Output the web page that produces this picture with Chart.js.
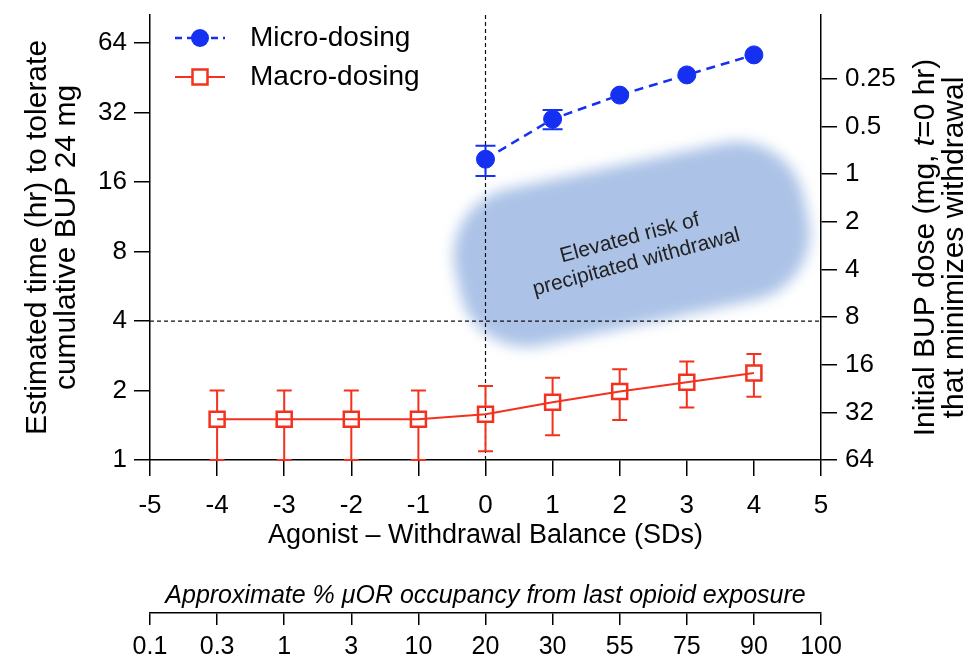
<!DOCTYPE html>
<html>
<head>
<meta charset="utf-8">
<script src="https://cdn.jsdelivr.net/npm/chart.js@4.4.0/dist/chart.umd.min.js"></script>
<style>
  html, body { margin: 0; padding: 0; background: #fff; }
  #wrap { width: 975px; height: 667px; }
</style>
</head>
<body>
<div id="wrap"><canvas id="chart" width="975" height="667"></canvas></div>
<script>
// values
const sdBalance = [-4, -3, -2, -1, 0, 1, 2, 3, 4];
const macroTime = [1.5, 1.5, 1.5, 1.5, 1.58, 1.78, 1.98, 2.17, 2.38];
const macroLow  = [1, 1, 1, 1, 1.09, 1.28, 1.49, 1.69, 1.88];
const macroHigh = [2, 2, 2, 2, 2.09, 2.27, 2.47, 2.67, 2.88];

const microBalance = [0, 1, 2, 3, 4];
const microTime = [20.1, 30.0, 38.1, 46.6, 56.9];
const microLow  = [17.0, 27.1, null, null, null];
const microHigh = [23.0, 32.8, null, null, null];

const timeTicks = [1, 2, 4, 8, 16, 32, 64];
const doseTicks = [0.25, 0.5, 1, 2, 4, 8, 16, 32, 64];
const occupancyLabels = ['0.1', '0.3', '1', '3', '10', '20', '30', '55', '75', '90', '100'];

// shaded zone and reference lines (data coordinates)
const riskZoneCenter = [2.18, 8.6];
const riskZoneText = ['Elevated risk of', 'precipitated withdrawal'];
const riskTextCenter = [2.2, 8.1];
const refBalance = 0;
const refTime = 4;

const BLUE = '#1530f0';
const RED = '#f2321e';
const FONT = "'Liberation Sans', Arial, sans-serif";

Chart.defaults.font.family = FONT;
Chart.defaults.color = '#000';

function drawErrors(ctx, xs, ys, xv, mid, lo, hi, color, cap, gap) {
    ctx.save();
    ctx.strokeStyle = color;
    ctx.lineWidth = 2;
    xv.forEach((v, i) => {
        if (lo[i] == null) return;
        const px = xs.getPixelForValue(v);
        const pc = ys.getPixelForValue(mid[i]);
        const pt = ys.getPixelForValue(hi[i]);
        const pb = ys.getPixelForValue(lo[i]);
        ctx.beginPath();
        ctx.moveTo(px, pt); ctx.lineTo(px, pc - gap);
        ctx.moveTo(px, pc + gap); ctx.lineTo(px, pb);
        ctx.moveTo(px - cap / 2, pt); ctx.lineTo(px + cap / 2, pt);
        ctx.moveTo(px - cap / 2, pb); ctx.lineTo(px + cap / 2, pb);
        ctx.stroke();
    });
    ctx.restore();
}

const figureExtras = {
    id: 'figureExtras',
    beforeDatasetsDraw(chart) {
        const { ctx, chartArea: a, scales: { x, y } } = chart;
        // blurred zone
        const cx = x.getPixelForValue(riskZoneCenter[0]);
        const cy = y.getPixelForValue(riskZoneCenter[1]);
        ctx.save();
        ctx.translate(cx, cy);
        ctx.rotate(-12 * Math.PI / 180);
        ctx.filter = 'blur(7px)';
        ctx.fillStyle = 'rgb(172,195,231)';
        ctx.beginPath();
        ctx.roundRect(-178, -80, 356, 160, 68);
        ctx.fill();
        ctx.restore();

        // zone label
        const tx = x.getPixelForValue(riskTextCenter[0]);
        const ty = y.getPixelForValue(riskTextCenter[1]);
        ctx.save();
        ctx.translate(tx, ty);
        ctx.rotate(-15 * Math.PI / 180);
        ctx.font = '21px ' + FONT;
        ctx.fillStyle = '#222';
        ctx.textAlign = 'center';
        ctx.textBaseline = 'middle';
        ctx.fillText(riskZoneText[0], 0, -12.5);
        ctx.fillText(riskZoneText[1], 0, 12.5);
        ctx.restore();

        // dashed reference lines
        ctx.save();
        ctx.strokeStyle = '#111';
        ctx.lineWidth = 1.2;
        ctx.setLineDash([4, 3]);
        const rx = x.getPixelForValue(refBalance);
        const ry = y.getPixelForValue(refTime);
        ctx.beginPath();
        ctx.moveTo(rx, a.top); ctx.lineTo(rx, a.bottom);
        ctx.moveTo(a.left, ry); ctx.lineTo(a.right, ry);
        ctx.stroke();
        ctx.restore();
    },
    afterDatasetsDraw(chart) {
        const { ctx, scales: { x, y } } = chart;
        drawErrors(ctx, x, y, microBalance, microTime, microLow, microHigh, BLUE, 20, 0);
        drawErrors(ctx, x, y, sdBalance, macroTime, macroLow, macroHigh, RED, 15, 7.5);
    },
    afterDraw(chart) {
        const { ctx, chartArea: a, scales: { y2 } } = chart;
        const ds = chart.data.datasets;

        // legend inside plot
        ctx.save();
        ctx.font = '28px ' + FONT;
        ctx.textBaseline = 'middle';
        ctx.fillStyle = '#000';
        const lx = a.left + 25, rows = [a.top + 23, a.top + 62];
        // micro
        ctx.strokeStyle = BLUE; ctx.lineWidth = 2.5; ctx.setLineDash([7, 5]);
        ctx.beginPath(); ctx.moveTo(lx, rows[0]); ctx.lineTo(lx + 50, rows[0]); ctx.stroke();
        ctx.setLineDash([]);
        ctx.fillStyle = BLUE;
        ctx.beginPath(); ctx.arc(lx + 25, rows[0], 9, 0, Math.PI * 2); ctx.fill();
        // macro
        ctx.strokeStyle = RED; ctx.lineWidth = 2;
        ctx.beginPath(); ctx.moveTo(lx, rows[1]); ctx.lineTo(lx + 50, rows[1]); ctx.stroke();
        ctx.lineWidth = 2.5;
        ctx.fillStyle = '#fff';
        ctx.fillRect(lx + 17.5, rows[1] - 7.5, 15, 15);
        ctx.strokeRect(lx + 17.5, rows[1] - 7.5, 15, 15);
        ctx.fillStyle = '#000';
        ctx.fillText(ds[0].label, lx + 75, rows[0]);
        ctx.fillText(ds[1].label, lx + 75, rows[1]);
        ctx.restore();

        // right axis title, reads bottom to top, italic t
        const midY = (a.top + a.bottom) / 2 + 10;
        ctx.save();
        ctx.fillStyle = '#000';
        ctx.textBaseline = 'middle';
        ctx.translate(y2.right - 49, midY);
        ctx.rotate(-Math.PI / 2);
        const parts = [['Initial BUP dose (mg, ', ''], ['t', 'italic '], ['=0 hr)', '']];
        let total = 0;
        parts.forEach(p => { ctx.font = p[1] + '30px ' + FONT; total += ctx.measureText(p[0]).width; });
        let px = -total / 2;
        ctx.textAlign = 'left';
        parts.forEach(p => {
            ctx.font = p[1] + '30px ' + FONT;
            ctx.fillText(p[0], px, 0);
            px += ctx.measureText(p[0]).width;
        });
        ctx.font = '30px ' + FONT;
        ctx.textAlign = 'center';
        ctx.fillText('that minimizes withdrawal', 0, 29);
        ctx.restore();
    }
};

const axisLine = { color: '#000', width: 1.5 };
const tickGrid = (len) => ({ drawOnChartArea: false, drawTicks: true, tickLength: len, color: '#000', lineWidth: 1.5 });
// keep tick labels from pushing the plot area down
const noVertPad = s => { s.paddingTop = 0; s.paddingBottom = 0; };

const ctx = document.getElementById('chart').getContext('2d');
new Chart(ctx, {
    type: 'line',
    data: {
        datasets: [{
            label: 'Micro-dosing',
            data: microBalance.map((b, i) => ({ x: b, y: microTime[i] })),
            borderColor: BLUE,
            backgroundColor: BLUE,
            borderWidth: 2.5,
            borderDash: [9, 6],
            pointRadius: 9,
            pointHoverRadius: 9,
            pointBorderWidth: 1,
            xAxisID: 'x',
            yAxisID: 'y'
        }, {
            label: 'Macro-dosing',
            data: sdBalance.map((b, i) => ({ x: b, y: macroTime[i] })),
            borderColor: RED,
            backgroundColor: 'rgba(0,0,0,0)',
            borderWidth: 2,
            pointStyle: 'rect',
            pointRadius: 10.6,
            pointHoverRadius: 10.6,
            pointBorderWidth: 2.5,
            xAxisID: 'x',
            yAxisID: 'y'
        }]
    },
    options: {
        responsive: false,
        animation: false,
        events: [],
        layout: { padding: { top: 15, left: 0, right: 0, bottom: 0 } },
        plugins: {
            legend: { display: false },
            tooltip: { enabled: false }
        },
        scales: {
            x: {
                type: 'linear',
                position: 'bottom',
                weight: 0,
                min: -5,
                max: 5,
                ticks: { stepSize: 1, font: { size: 26 }, padding: 14, color: '#000' },
                grid: tickGrid(16),
                border: axisLine,
                title: {
                    display: true,
                    text: 'Agonist – Withdrawal Balance (SDs)',
                    font: { size: 27 },
                    color: '#000',
                    padding: { top: 0, bottom: 8 }
                },
                afterFit: s => { s.height = 100; }
            },
            xTitle: {
                type: 'linear',
                position: 'bottom',
                weight: 1,
                min: -5,
                max: 5,
                grid: { display: false },
                border: { display: false },
                ticks: { display: false },
                title: {
                    display: true,
                    text: 'Approximate % μOR occupancy from last opioid exposure',
                    font: { size: 25, style: 'italic' },
                    color: '#000',
                    padding: { top: 0, bottom: 2 }
                },
                afterFit: s => { s.height = 53; }
            },
            xOcc: {
                type: 'linear',
                position: 'bottom',
                weight: 2,
                min: -5,
                max: 5,
                ticks: {
                    stepSize: 1,
                    autoSkip: false,
                    maxRotation: 0,
                    font: { size: 25 },
                    padding: 7,
                    color: '#000',
                    callback: (v, i) => occupancyLabels[i]
                },
                grid: tickGrid(12),
                border: axisLine,
                afterFit: s => { s.height = 54; }
            },
            y: {
                type: 'logarithmic',
                position: 'left',
                min: 1,
                max: 84.7,
                afterBuildTicks: s => { s.ticks = timeTicks.map(v => ({ value: v })); },
                ticks: { autoSkip: false, font: { size: 26 }, padding: 7, color: '#000', callback: v => String(v) },
                grid: tickGrid(16),
                border: axisLine,
                title: {
                    display: true,
                    text: ['Estimated time (hr) to tolerate', 'cumulative BUP 24 mg'],
                    font: { size: 30, lineHeight: 0.97 },
                    color: '#000',
                    padding: { top: 23.5, bottom: 0 }
                },
                afterFit: s => { s.width = 150; noVertPad(s); }
            },
            y2: {
                type: 'logarithmic',
                position: 'right',
                reverse: true,
                min: 0.0985,
                max: 64,
                afterBuildTicks: s => { s.ticks = doseTicks.map(v => ({ value: v })); },
                ticks: { autoSkip: false, font: { size: 26 }, padding: 8, color: '#000', callback: v => String(v) },
                grid: tickGrid(16),
                border: axisLine,
                afterFit: s => { s.width = 154; noVertPad(s); }
            }
        }
    },
    plugins: [figureExtras]
});
</script>
</body>
</html>
